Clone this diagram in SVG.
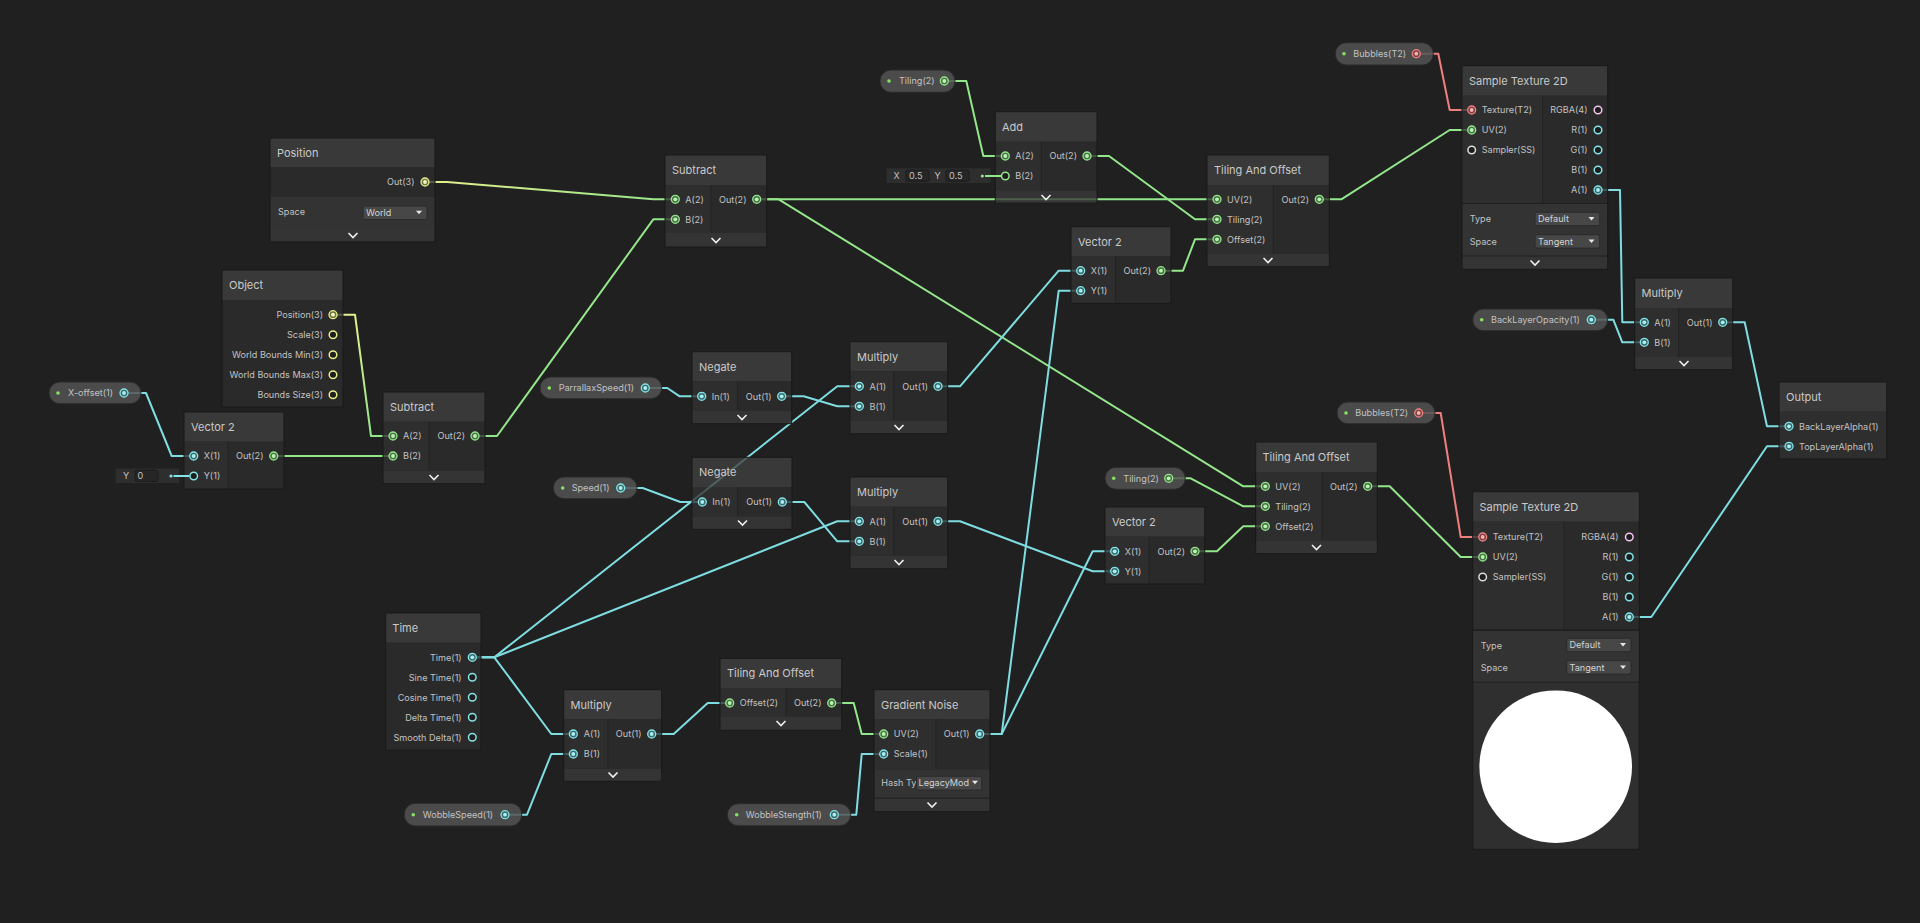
<svg xmlns="http://www.w3.org/2000/svg" xmlns:xlink="http://www.w3.org/1999/xlink" width="1920" height="923" viewBox="0 0 1920 923">
<style>
.hd{fill:#404040;fill-opacity:.78}
.bi{fill:#323232;fill-opacity:.78}
.bo{fill:#2d2d2d;fill-opacity:.78}
.st{fill:#383838;fill-opacity:.78}
.cb{fill:#3a3a3a;fill-opacity:.78}
.pv{fill:#323232;fill-opacity:.85}
.ol{fill:none;stroke:#191919;stroke-width:1}
.dv{stroke:#232323;stroke-width:1}
.pill{fill:#535353;fill-opacity:.85;stroke:#2a2a2a;stroke-width:1}
.tt{font-family:Inter,"Liberation Sans",sans-serif;font-size:11px;fill:#c9c9c9}
.pl{font-family:Inter,"Liberation Sans",sans-serif;font-size:9.1px;fill:#c2c2c2}
.pr{text-anchor:end}
.chev{fill:none;stroke:#f0f0f0;stroke-width:1.6}
.dd{fill:#474747;stroke:#2b2b2b;stroke-width:1}
.ddt{font-family:Inter,"Liberation Sans",sans-serif;font-size:9.1px;fill:#d4d4d4}
.arr{fill:#e8e8e8}
.pdot{fill:#86e35f}
.fld{fill:#262626;stroke:#1c1c1c;stroke-width:1}
.inl{fill:#2e2e2e}
.e{fill:none;stroke-width:2;stroke-linejoin:round;stroke-linecap:round}
.ec{stroke:#7fdde1}
.eg{stroke:#93e68a}
.er{stroke:#ee7f7f}
</style>
<defs>
<linearGradient id="gy1" gradientUnits="userSpaceOnUse" x1="425" y1="0" x2="675" y2="0"><stop offset="0" stop-color="#e6ef8c"/><stop offset="1" stop-color="#93e68a"/></linearGradient>
<linearGradient id="gy2" gradientUnits="userSpaceOnUse" x1="0" y1="315" x2="0" y2="436"><stop offset="0" stop-color="#e6ef8c"/><stop offset="1" stop-color="#93e68a"/></linearGradient>
<g id="pc"><circle r="4" fill="#3d6a6c" stroke="#84e4e7" stroke-width="1.3"/><circle r="1.9" fill="#a8f0f2"/></g>
<g id="pg"><circle r="4" fill="#4c7049" stroke="#93e68a" stroke-width="1.3"/><circle r="1.9" fill="#b8f5b0"/></g>
<g id="py"><circle r="4" fill="#6f7348" stroke="#e6ef8c" stroke-width="1.3"/><circle r="1.9" fill="#f6fbb8"/></g>
<g id="prd"><circle r="4" fill="#7a4343" stroke="#ef8080" stroke-width="1.3"/><circle r="1.9" fill="#f6b0b0"/></g>
<g id="uc"><circle r="3.8" fill="#1e1e1e" stroke="#84e4e7" stroke-width="1.5"/></g>
<g id="ug"><circle r="3.8" fill="#1e1e1e" stroke="#93e68a" stroke-width="1.5"/></g>
<g id="uy"><circle r="3.8" fill="#1e1e1e" stroke="#e6ef8c" stroke-width="1.5"/></g>
<g id="up"><circle r="3.8" fill="#1e1e1e" stroke="#f6c6ef" stroke-width="1.5"/></g>
<g id="uw"><circle r="3.8" fill="#1e1e1e" stroke="#dcdcdc" stroke-width="1.5"/></g>
<polyline id="chv" class="chev" points="-4.5,-2.5 0,2 4.5,-2.5"/>
<polygon id="tri" class="arr" points="-3,-1.8 3,-1.8 0,1.8"/>
</defs>
<rect width="1920" height="923" fill="#202020"/>

<g id="connectors">
<polyline class="e" stroke="url(#gy1)" points="425,182 447,182 653.3,199.3 675.3,199.3"/>
<polyline class="e" stroke="url(#gy2)" points="333,314.7 355,314.7 371,436 393,436"/>
<polyline class="e eg" points="273.7,456 393,456"/>
<polyline class="e ec" points="124,393 146,393 171.7,456 193.7,456"/>
<polyline class="e eg" points="475,436 497,436 653.3,219.3 675.3,219.3"/>
<polyline class="e eg" points="756.7,199.3 1217,199.3"/>
<polyline class="e eg" points="756.7,199.3 778.7,199.3 1243.3,486.3 1265.3,486.3"/>
<polyline class="e eg" points="944.3,81 966.3,81 983.3,156 1005.3,156"/>
<polyline class="e eg" points="1087,156 1109,156 1195,219.3 1217,219.3"/>
<polyline class="e eg" points="1161,270.7 1183,270.7 1195,239.3 1217,239.3"/>
<polyline class="e eg" points="1319.3,199.3 1341.3,199.3 1449.7,130 1471.7,130"/>
<polyline class="e er" points="1416.3,53.7 1438.3,53.7 1449.7,110 1471.7,110"/>
<polyline class="e ec" points="1598,190 1620,190 1622.3,322.3 1644.3,322.3"/>
<polyline class="e ec" points="1591.3,319.7 1613.3,319.7 1622.3,342.3 1644.3,342.3"/>
<polyline class="e ec" points="1722.7,322.3 1744.7,322.3 1767,426.3 1789,426.3"/>
<polyline class="e ec" points="1629.3,617 1651.3,617 1767,446.3 1789,446.3"/>
<polyline class="e er" points="1418.7,413 1440.7,413 1460.7,537 1482.7,537"/>
<polyline class="e eg" points="1367.7,486.3 1389.7,486.3 1460.7,557 1482.7,557"/>
<polyline class="e eg" points="1168.7,478.3 1190.7,478.3 1243.3,506.3 1265.3,506.3"/>
<polyline class="e eg" points="1195,551.3 1217,551.3 1243.3,526.3 1265.3,526.3"/>
<polyline class="e ec" points="938,386.3 960,386.3 1058.7,270.7 1080.7,270.7"/>
<polyline class="e ec" points="938,521.3 960,521.3 1092.7,571.3 1114.7,571.3"/>
<polyline class="e ec" points="979.7,734 1001.7,734 1058.7,290.7 1080.7,290.7"/>
<polyline class="e ec" points="979.7,734 1001.7,734 1092.7,551.3 1114.7,551.3"/>
<polyline class="e ec" points="645.3,388 667.3,388 679.7,396.3 701.7,396.3"/>
<polyline class="e ec" points="781.7,396.3 803.7,396.3 837.3,406.3 859.3,406.3"/>
<polyline class="e ec" points="620.7,488 642.7,488 680.3,502 702.3,502"/>
<polyline class="e ec" points="782.3,502 804.3,502 837.3,541.3 859.3,541.3"/>
<polyline class="e ec" points="472.3,657.3 494.3,657.3 837.3,386.3 859.3,386.3"/>
<polyline class="e ec" points="472.3,657.3 494.3,657.3 837.3,521.3 859.3,521.3"/>
<polyline class="e ec" points="472.3,657.3 494.3,657.3 551.3,734 573.3,734"/>
<polyline class="e ec" points="505,814.7 527,814.7 551.3,754 573.3,754"/>
<polyline class="e ec" points="651.7,734 673.7,734 707.7,703 729.7,703"/>
<polyline class="e eg" points="831.7,703 853.7,703 861.7,734 883.7,734"/>
<polyline class="e ec" points="834.3,814.7 856.3,814.7 861.7,754 883.7,754"/>
</g>

<g id="node-position">
<rect class="hd" x="270" y="138" width="165" height="29.5"/>
<rect class="bo" x="270" y="167.5" width="165" height="29"/>
<rect class="st" x="270" y="196.5" width="165" height="32.5"/>
<rect class="cb" x="270" y="229" width="165" height="13"/>
<rect class="ol" x="270" y="138" width="165" height="104"/>
<text class="tt" x="277" y="157">Position</text>
<text class="pl pr" x="414.5" y="185.3">Out(3)</text>
<use href="#py" x="425" y="182"/>
<text class="pl" x="278" y="215.3">Space</text>
<rect class="dd" x="363" y="206" width="64" height="13.5" rx="2"/>
<text class="ddt" x="366" y="216.2">World</text>
<use href="#tri" x="419" y="212.5"/>
<use href="#chv" x="353" y="235.5"/>
</g>

<g id="node-object">
<rect class="hd" x="222" y="270" width="121" height="30"/>
<rect class="bo" x="222" y="300" width="121" height="107"/>
<rect class="ol" x="222" y="270" width="121" height="137"/>
<text class="tt" x="229" y="289">Object</text>
<text class="pl pr" x="323" y="318">Position(3)</text>
<text class="pl pr" x="323" y="338">Scale(3)</text>
<text class="pl pr" x="323" y="358">World Bounds Min(3)</text>
<text class="pl pr" x="323" y="378">World Bounds Max(3)</text>
<text class="pl pr" x="323" y="398">Bounds Size(3)</text>
<use href="#py" x="333" y="314.7"/>
<use href="#uy" x="333" y="334.7"/>
<use href="#uy" x="333" y="354.7"/>
<use href="#uy" x="333" y="374.7"/>
<use href="#uy" x="333" y="394.7"/>
</g>

<g id="prop-xoffset">
<rect class="pill" x="49" y="382" width="92" height="21.7" rx="10.8"/>
<circle class="pdot" cx="58" cy="393" r="1.8"/>
<text class="pl" x="68" y="396.3">X-offset(1)</text>
<use href="#pc" x="124" y="393"/>
</g>

<g id="node-vector2-a">
<rect class="hd" x="184" y="412" width="100" height="29.7"/>
<rect class="bi" x="184" y="441.7" width="44" height="47.3"/>
<rect class="bo" x="228" y="441.7" width="56" height="47.3"/>
<line class="dv" x1="228" y1="441.7" x2="228" y2="489"/>
<rect class="ol" x="184" y="412" width="100" height="77"/>
<text class="tt" x="191" y="431">Vector 2</text>
<text class="pl" x="203.7" y="459.3">X(1)</text>
<text class="pl" x="203.7" y="479.3">Y(1)</text>
<text class="pl pr" x="263.5" y="459.3">Out(2)</text>
<use href="#pc" x="193.7" y="456"/>
<use href="#pg" x="273.7" y="456"/>
<rect class="inl" x="115.7" y="468.7" width="63.3" height="14.3"/>
<text class="pl" x="123" y="479.3">Y</text>
<rect class="fld" x="135" y="470.3" width="23" height="11.2" rx="1.5"/>
<text class="pl" x="137.5" y="479.3">0</text>
<circle cx="171" cy="476" r="1.6" fill="#84e4e7"/>
<line x1="173.5" y1="476" x2="189.5" y2="476" stroke="#84e4e7" stroke-width="2"/>
<use href="#uc" x="193.7" y="476"/>
</g>

<g id="node-subtract-a">
<rect class="hd" x="383" y="392" width="102" height="29.7"/>
<rect class="bi" x="383" y="421.7" width="46" height="49"/>
<rect class="bo" x="429" y="421.7" width="56" height="49"/>
<line class="dv" x1="429" y1="421.7" x2="429" y2="470.7"/>
<rect class="cb" x="383" y="470.7" width="102" height="13"/>
<rect class="ol" x="383" y="392" width="102" height="91.7"/>
<text class="tt" x="390" y="411">Subtract</text>
<text class="pl" x="403" y="439.3">A(2)</text>
<text class="pl" x="403" y="459.3">B(2)</text>
<text class="pl pr" x="465" y="439.3">Out(2)</text>
<use href="#pg" x="393" y="436"/>
<use href="#pg" x="393" y="456"/>
<use href="#pg" x="475" y="436"/>
<use href="#chv" x="434" y="477.5"/>
</g>

<g id="node-subtract-b">
<rect class="hd" x="665" y="155" width="101.7" height="30"/>
<rect class="bi" x="665" y="185" width="46" height="48"/>
<rect class="bo" x="711" y="185" width="55.7" height="48"/>
<line class="dv" x1="711" y1="185" x2="711" y2="233"/>
<rect class="cb" x="665" y="233" width="101.7" height="14"/>
<rect class="ol" x="665" y="155" width="101.7" height="92"/>
<text class="tt" x="672" y="174">Subtract</text>
<text class="pl" x="685.3" y="202.6">A(2)</text>
<text class="pl" x="685.3" y="222.6">B(2)</text>
<text class="pl pr" x="746.5" y="202.6">Out(2)</text>
<use href="#pg" x="675.3" y="199.3"/>
<use href="#pg" x="675.3" y="219.3"/>
<use href="#pg" x="756.7" y="199.3"/>
<use href="#chv" x="716" y="240.5"/>
</g>

<g id="prop-tiling-a">
<rect class="pill" x="880" y="70" width="75" height="22.3" rx="11"/>
<circle class="pdot" cx="889" cy="81" r="1.8"/>
<text class="pl" x="899" y="84.3">Tiling(2)</text>
<use href="#pg" x="944.3" y="81"/>
</g>

<g id="node-add">
<rect class="hd" x="995.3" y="111.7" width="101.7" height="30"/>
<rect class="bi" x="995.3" y="141.7" width="46" height="49.3"/>
<rect class="bo" x="1041.3" y="141.7" width="55.7" height="49.3"/>
<line class="dv" x1="1041.3" y1="141.7" x2="1041.3" y2="191"/>
<rect class="cb" x="995.3" y="191" width="101.7" height="12.3"/>
<rect class="ol" x="995.3" y="111.7" width="101.7" height="91.6"/>
<text class="tt" x="1002" y="130.5">Add</text>
<text class="pl" x="1015.3" y="159.3">A(2)</text>
<text class="pl" x="1015.3" y="179.3">B(2)</text>
<text class="pl pr" x="1077" y="159.3">Out(2)</text>
<use href="#pg" x="1005.3" y="156"/>
<use href="#pg" x="1087" y="156"/>
<rect class="inl" x="886.7" y="168.3" width="104" height="14.7"/>
<text class="pl" x="893.5" y="179.2">X</text>
<rect class="fld" x="906" y="170" width="23" height="11.3" rx="1.5"/>
<text class="pl" x="909" y="179.2">0.5</text>
<text class="pl" x="934.5" y="179.2">Y</text>
<rect class="fld" x="946" y="170" width="23" height="11.3" rx="1.5"/>
<text class="pl" x="949" y="179.2">0.5</text>
<circle cx="982.3" cy="176" r="1.6" fill="#93e68a"/>
<line x1="985" y1="176" x2="1001" y2="176" stroke="#93e68a" stroke-width="2"/>
<use href="#ug" x="1005.3" y="176"/>
<use href="#chv" x="1046" y="197.5"/>
</g>

<g id="node-tiling-offset-a">
<rect class="hd" x="1207" y="155" width="122.3" height="30"/>
<rect class="bi" x="1207" y="185" width="66.3" height="69"/>
<rect class="bo" x="1273.3" y="185" width="56" height="69"/>
<line class="dv" x1="1273.3" y1="185" x2="1273.3" y2="254"/>
<rect class="cb" x="1207" y="254" width="122.3" height="12.7"/>
<rect class="ol" x="1207" y="155" width="122.3" height="111.7"/>
<text class="tt" x="1214" y="174">Tiling And Offset</text>
<text class="pl" x="1227" y="202.6">UV(2)</text>
<text class="pl" x="1227" y="222.6">Tiling(2)</text>
<text class="pl" x="1227" y="242.6">Offset(2)</text>
<text class="pl pr" x="1309" y="202.6">Out(2)</text>
<use href="#pg" x="1217" y="199.3"/>
<use href="#pg" x="1217" y="219.3"/>
<use href="#pg" x="1217" y="239.3"/>
<use href="#pg" x="1319.3" y="199.3"/>
<use href="#chv" x="1268" y="260.5"/>
</g>

<g id="node-vector2-b">
<rect class="hd" x="1071" y="226.7" width="100" height="29.3"/>
<rect class="bi" x="1071" y="256" width="44.3" height="47.3"/>
<rect class="bo" x="1115.3" y="256" width="55.7" height="47.3"/>
<line class="dv" x1="1115.3" y1="256" x2="1115.3" y2="303.3"/>
<rect class="ol" x="1071" y="226.7" width="100" height="76.6"/>
<text class="tt" x="1078" y="245.5">Vector 2</text>
<text class="pl" x="1090.7" y="274">X(1)</text>
<text class="pl" x="1090.7" y="294">Y(1)</text>
<text class="pl pr" x="1151" y="274">Out(2)</text>
<use href="#pc" x="1080.7" y="270.7"/>
<use href="#pc" x="1080.7" y="290.7"/>
<use href="#pg" x="1161" y="270.7"/>
</g>

<g id="prop-bubbles-a">
<rect class="pill" x="1335.3" y="42.7" width="98" height="22.3" rx="11"/>
<circle class="pdot" cx="1344" cy="53.7" r="1.8"/>
<text class="pl" x="1353.3" y="57">Bubbles(T2)</text>
<use href="#prd" x="1416.3" y="53.7"/>
</g>

<g id="node-sample-texture-a">
<rect class="hd" x="1462" y="65.7" width="145.7" height="30"/>
<rect class="bi" x="1462" y="95.7" width="80.7" height="107.3"/>
<rect class="bo" x="1542.7" y="95.7" width="65" height="107.3"/>
<line class="dv" x1="1542.7" y1="95.7" x2="1542.7" y2="203"/>
<rect class="st" x="1462" y="204" width="145.7" height="51.5"/>
<rect class="cb" x="1462" y="256.5" width="145.7" height="12.8"/>
<rect class="ol" x="1462" y="65.7" width="145.7" height="203.6"/>
<text class="tt" x="1469" y="84.5">Sample Texture 2D</text>
<text class="pl" x="1481.7" y="113.3">Texture(T2)</text>
<text class="pl" x="1481.7" y="133.3">UV(2)</text>
<text class="pl" x="1481.7" y="153.3">Sampler(SS)</text>
<use href="#prd" x="1471.7" y="110"/>
<use href="#pg" x="1471.7" y="130"/>
<use href="#uw" x="1471.7" y="150"/>
<text class="pl pr" x="1587.5" y="113.3">RGBA(4)</text>
<text class="pl pr" x="1587.5" y="133.3">R(1)</text>
<text class="pl pr" x="1587.5" y="153.3">G(1)</text>
<text class="pl pr" x="1587.5" y="173.3">B(1)</text>
<text class="pl pr" x="1587.5" y="193.3">A(1)</text>
<use href="#up" x="1598" y="110"/>
<use href="#uc" x="1598" y="130"/>
<use href="#uc" x="1598" y="150"/>
<use href="#uc" x="1598" y="170"/>
<use href="#pc" x="1598" y="190"/>
<text class="pl" x="1469.7" y="222.3">Type</text>
<rect class="dd" x="1535" y="212.3" width="64.7" height="13.4" rx="2"/>
<text class="ddt" x="1538" y="222.3">Default</text>
<use href="#tri" x="1591.5" y="218.8"/>
<text class="pl" x="1469.7" y="244.6">Space</text>
<rect class="dd" x="1535" y="234.7" width="64.7" height="13.4" rx="2"/>
<text class="ddt" x="1538" y="244.6">Tangent</text>
<use href="#tri" x="1591.5" y="241.2"/>
<use href="#chv" x="1535" y="263"/>
</g>

<g id="node-multiply-d">
<rect class="hd" x="1634.7" y="278" width="98" height="30"/>
<rect class="bi" x="1634.7" y="308" width="44" height="49"/>
<rect class="bo" x="1678.7" y="308" width="54" height="49"/>
<line class="dv" x1="1678.7" y1="308" x2="1678.7" y2="357"/>
<rect class="cb" x="1634.7" y="357" width="98" height="12.7"/>
<rect class="ol" x="1634.7" y="278" width="98" height="91.7"/>
<text class="tt" x="1641.5" y="297">Multiply</text>
<text class="pl" x="1654.3" y="325.6">A(1)</text>
<text class="pl" x="1654.3" y="345.6">B(1)</text>
<text class="pl pr" x="1712.5" y="325.6">Out(1)</text>
<use href="#pc" x="1644.3" y="322.3"/>
<use href="#pc" x="1644.3" y="342.3"/>
<use href="#pc" x="1722.7" y="322.3"/>
<use href="#chv" x="1684" y="363.5"/>
</g>

<g id="prop-backlayeropacity">
<rect class="pill" x="1472.7" y="309" width="135" height="21.7" rx="10.8"/>
<circle class="pdot" cx="1481.7" cy="319.7" r="1.8"/>
<text class="pl" x="1491" y="323">BackLayerOpacity(1)</text>
<use href="#pc" x="1591.3" y="319.7"/>
</g>

<g id="node-output">
<rect class="hd" x="1779" y="382" width="107.7" height="29.7"/>
<rect class="bi" x="1779" y="411.7" width="107.7" height="47.3"/>
<rect class="ol" x="1779" y="382" width="107.7" height="77"/>
<text class="tt" x="1786" y="401">Output</text>
<text class="pl" x="1799" y="429.6">BackLayerAlpha(1)</text>
<text class="pl" x="1799" y="449.6">TopLayerAlpha(1)</text>
<use href="#pc" x="1789" y="426.3"/>
<use href="#pc" x="1789" y="446.3"/>
</g>

<g id="prop-bubbles-b">
<rect class="pill" x="1337" y="402" width="98" height="21.7" rx="10.8"/>
<circle class="pdot" cx="1346" cy="413" r="1.8"/>
<text class="pl" x="1355.3" y="416.3">Bubbles(T2)</text>
<use href="#prd" x="1418.7" y="413"/>
</g>

<g id="node-sample-texture-b">
<rect class="hd" x="1472.7" y="491.7" width="166.6" height="30"/>
<rect class="bi" x="1472.7" y="521.7" width="91.3" height="107.6"/>
<rect class="bo" x="1564" y="521.7" width="75.3" height="107.6"/>
<line class="dv" x1="1564" y1="521.7" x2="1564" y2="629.3"/>
<rect class="st" x="1472.7" y="631" width="166.6" height="50.7"/>
<rect class="pv" x="1472.7" y="682.7" width="166.6" height="166.6"/>
<rect class="ol" x="1472.7" y="491.7" width="166.6" height="357.6"/>
<text class="tt" x="1479.5" y="510.5">Sample Texture 2D</text>
<text class="pl" x="1492.7" y="540.3">Texture(T2)</text>
<text class="pl" x="1492.7" y="560.3">UV(2)</text>
<text class="pl" x="1492.7" y="580.3">Sampler(SS)</text>
<use href="#prd" x="1482.7" y="537"/>
<use href="#pg" x="1482.7" y="557"/>
<use href="#uw" x="1482.7" y="577"/>
<text class="pl pr" x="1618.7" y="540.3">RGBA(4)</text>
<text class="pl pr" x="1618.7" y="560.3">R(1)</text>
<text class="pl pr" x="1618.7" y="580.3">G(1)</text>
<text class="pl pr" x="1618.7" y="600.3">B(1)</text>
<text class="pl pr" x="1618.7" y="620.3">A(1)</text>
<use href="#up" x="1629.3" y="537"/>
<use href="#uc" x="1629.3" y="557"/>
<use href="#uc" x="1629.3" y="577"/>
<use href="#uc" x="1629.3" y="597"/>
<use href="#pc" x="1629.3" y="617"/>
<text class="pl" x="1480.7" y="648.6">Type</text>
<rect class="dd" x="1566.7" y="638.3" width="64.3" height="13.4" rx="2"/>
<text class="ddt" x="1569.5" y="648.3">Default</text>
<use href="#tri" x="1623" y="644.8"/>
<text class="pl" x="1480.7" y="670.6">Space</text>
<rect class="dd" x="1566.7" y="660.7" width="64.3" height="13.4" rx="2"/>
<text class="ddt" x="1569.5" y="670.6">Tangent</text>
<use href="#tri" x="1623" y="667.2"/>
<circle cx="1555.7" cy="766.7" r="76.3" fill="#ffffff"/>
</g>

<g id="node-tiling-offset-b">
<rect class="hd" x="1255.7" y="442" width="121.6" height="30"/>
<rect class="bi" x="1255.7" y="472" width="66.3" height="68.7"/>
<rect class="bo" x="1322" y="472" width="55.3" height="68.7"/>
<line class="dv" x1="1322" y1="472" x2="1322" y2="540.7"/>
<rect class="cb" x="1255.7" y="540.7" width="121.6" height="13"/>
<rect class="ol" x="1255.7" y="442" width="121.6" height="111.7"/>
<text class="tt" x="1262.5" y="461">Tiling And Offset</text>
<text class="pl" x="1275.3" y="489.6">UV(2)</text>
<text class="pl" x="1275.3" y="509.6">Tiling(2)</text>
<text class="pl" x="1275.3" y="529.6">Offset(2)</text>
<text class="pl pr" x="1357.5" y="489.6">Out(2)</text>
<use href="#pg" x="1265.3" y="486.3"/>
<use href="#pg" x="1265.3" y="506.3"/>
<use href="#pg" x="1265.3" y="526.3"/>
<use href="#pg" x="1367.7" y="486.3"/>
<use href="#chv" x="1316.5" y="547.5"/>
</g>

<g id="prop-tiling-b">
<rect class="pill" x="1105" y="467.3" width="80.3" height="22" rx="11"/>
<circle class="pdot" cx="1113.7" cy="478.3" r="1.8"/>
<text class="pl" x="1123.3" y="481.6">Tiling(2)</text>
<use href="#pg" x="1168.7" y="478.3"/>
</g>

<g id="node-vector2-c">
<rect class="hd" x="1105" y="507" width="99.7" height="29.7"/>
<rect class="bi" x="1105" y="536.7" width="44" height="47.3"/>
<rect class="bo" x="1149" y="536.7" width="55.7" height="47.3"/>
<line class="dv" x1="1149" y1="536.7" x2="1149" y2="584"/>
<rect class="ol" x="1105" y="507" width="99.7" height="77"/>
<text class="tt" x="1112" y="526">Vector 2</text>
<text class="pl" x="1124.7" y="554.6">X(1)</text>
<text class="pl" x="1124.7" y="574.6">Y(1)</text>
<text class="pl pr" x="1185" y="554.6">Out(2)</text>
<use href="#pc" x="1114.7" y="551.3"/>
<use href="#pc" x="1114.7" y="571.3"/>
<use href="#pg" x="1195" y="551.3"/>
</g>

<g id="prop-parrallaxspeed">
<rect class="pill" x="540" y="377" width="121.7" height="21.7" rx="10.8"/>
<circle class="pdot" cx="549.3" cy="388" r="1.8"/>
<text class="pl" x="558.7" y="391.3">ParrallaxSpeed(1)</text>
<use href="#pc" x="645.3" y="388"/>
</g>

<g id="node-negate-a">
<rect class="hd" x="692" y="351.7" width="99.7" height="29.6"/>
<rect class="bi" x="692" y="381.3" width="45.7" height="29.4"/>
<rect class="bo" x="737.7" y="381.3" width="54" height="29.4"/>
<line class="dv" x1="737.7" y1="381.3" x2="737.7" y2="410.7"/>
<rect class="cb" x="692" y="410.7" width="99.7" height="13"/>
<rect class="ol" x="692" y="351.7" width="99.7" height="72"/>
<text class="tt" x="699" y="370.5">Negate</text>
<text class="pl" x="711.7" y="399.6">In(1)</text>
<text class="pl pr" x="771.5" y="399.6">Out(1)</text>
<use href="#pc" x="701.7" y="396.3"/>
<use href="#pc" x="781.7" y="396.3"/>
<use href="#chv" x="742" y="417.5"/>
</g>

<g id="node-multiply-a">
<rect class="hd" x="850" y="341.7" width="97.7" height="29.6"/>
<rect class="bi" x="850" y="371.3" width="43.7" height="49.4"/>
<rect class="bo" x="893.7" y="371.3" width="54" height="49.4"/>
<line class="dv" x1="893.7" y1="371.3" x2="893.7" y2="420.7"/>
<rect class="cb" x="850" y="420.7" width="97.7" height="13"/>
<rect class="ol" x="850" y="341.7" width="97.7" height="92"/>
<text class="tt" x="857" y="360.5">Multiply</text>
<text class="pl" x="869.5" y="389.6">A(1)</text>
<text class="pl" x="869.5" y="409.6">B(1)</text>
<text class="pl pr" x="928" y="389.6">Out(1)</text>
<use href="#pc" x="859.3" y="386.3"/>
<use href="#pc" x="859.3" y="406.3"/>
<use href="#pc" x="938" y="386.3"/>
<use href="#chv" x="899" y="427.5"/>
</g>

<g id="prop-speed">
<rect class="pill" x="553.3" y="477" width="83.7" height="21.7" rx="10.8"/>
<circle class="pdot" cx="562.7" cy="488" r="1.8"/>
<text class="pl" x="571.7" y="491.3">Speed(1)</text>
<use href="#pc" x="620.7" y="488"/>
</g>

<g id="node-negate-b">
<rect class="hd" x="692" y="457.3" width="100" height="29.7"/>
<rect class="bi" x="692" y="487" width="45.7" height="29.3"/>
<rect class="bo" x="737.7" y="487" width="54.3" height="29.3"/>
<line class="dv" x1="737.7" y1="487" x2="737.7" y2="516.3"/>
<rect class="cb" x="692" y="516.3" width="100" height="13"/>
<rect class="ol" x="692" y="457.3" width="100" height="72"/>
<text class="tt" x="699" y="476">Negate</text>
<text class="pl" x="712.3" y="505.3">In(1)</text>
<text class="pl pr" x="772" y="505.3">Out(1)</text>
<use href="#pc" x="702.3" y="502"/>
<use href="#pc" x="782.3" y="502"/>
<use href="#chv" x="742.5" y="523"/>
</g>

<g id="node-multiply-b">
<rect class="hd" x="850" y="477" width="97.7" height="29.7"/>
<rect class="bi" x="850" y="506.7" width="43.7" height="49"/>
<rect class="bo" x="893.7" y="506.7" width="54" height="49"/>
<line class="dv" x1="893.7" y1="506.7" x2="893.7" y2="555.7"/>
<rect class="cb" x="850" y="555.7" width="97.7" height="13"/>
<rect class="ol" x="850" y="477" width="97.7" height="91.7"/>
<text class="tt" x="857" y="496">Multiply</text>
<text class="pl" x="869.5" y="524.6">A(1)</text>
<text class="pl" x="869.5" y="544.6">B(1)</text>
<text class="pl pr" x="928" y="524.6">Out(1)</text>
<use href="#pc" x="859.3" y="521.3"/>
<use href="#pc" x="859.3" y="541.3"/>
<use href="#pc" x="938" y="521.3"/>
<use href="#chv" x="899" y="562.5"/>
</g>

<g id="node-time">
<rect class="hd" x="385.7" y="613" width="95.3" height="29.7"/>
<rect class="bo" x="385.7" y="642.7" width="95.3" height="107.6"/>
<rect class="ol" x="385.7" y="613" width="95.3" height="137.3"/>
<text class="tt" x="392.3" y="632">Time</text>
<text class="pl pr" x="461.7" y="660.6">Time(1)</text>
<text class="pl pr" x="461.7" y="680.6">Sine Time(1)</text>
<text class="pl pr" x="461.7" y="700.6">Cosine Time(1)</text>
<text class="pl pr" x="461.7" y="720.6">Delta Time(1)</text>
<text class="pl pr" x="461.7" y="740.6">Smooth Delta(1)</text>
<use href="#pc" x="472.3" y="657.3"/>
<use href="#uc" x="472.3" y="677.3"/>
<use href="#uc" x="472.3" y="697.3"/>
<use href="#uc" x="472.3" y="717.3"/>
<use href="#uc" x="472.3" y="737.3"/>
</g>

<g id="prop-wobblespeed">
<rect class="pill" x="404.3" y="803.3" width="117.4" height="22.7" rx="11"/>
<circle class="pdot" cx="413.3" cy="814.7" r="1.8"/>
<text class="pl" x="422.7" y="818">WobbleSpeed(1)</text>
<use href="#pc" x="505" y="814.7"/>
</g>

<g id="node-multiply-c">
<rect class="hd" x="563.7" y="689.7" width="98" height="29.6"/>
<rect class="bi" x="563.7" y="719.3" width="44.3" height="49.4"/>
<rect class="bo" x="608" y="719.3" width="53.7" height="49.4"/>
<line class="dv" x1="608" y1="719.3" x2="608" y2="768.7"/>
<rect class="cb" x="563.7" y="768.7" width="98" height="12.6"/>
<rect class="ol" x="563.7" y="689.7" width="98" height="91.6"/>
<text class="tt" x="570.5" y="708.5">Multiply</text>
<text class="pl" x="583.7" y="737.3">A(1)</text>
<text class="pl" x="583.7" y="757.3">B(1)</text>
<text class="pl pr" x="641.5" y="737.3">Out(1)</text>
<use href="#pc" x="573.3" y="734"/>
<use href="#pc" x="573.3" y="754"/>
<use href="#pc" x="651.7" y="734"/>
<use href="#chv" x="613" y="775"/>
</g>

<g id="node-tiling-offset-c">
<rect class="hd" x="720" y="658.3" width="121.7" height="29.7"/>
<rect class="bi" x="720" y="688" width="66" height="29"/>
<rect class="bo" x="786" y="688" width="55.7" height="29"/>
<line class="dv" x1="786" y1="688" x2="786" y2="717"/>
<rect class="cb" x="720" y="717" width="121.7" height="13.3"/>
<rect class="ol" x="720" y="658.3" width="121.7" height="72"/>
<text class="tt" x="727" y="677">Tiling And Offset</text>
<text class="pl" x="739.7" y="706.3">Offset(2)</text>
<text class="pl pr" x="821.5" y="706.3">Out(2)</text>
<use href="#pg" x="729.7" y="703"/>
<use href="#pg" x="831.7" y="703"/>
<use href="#chv" x="781" y="723.5"/>
</g>

<g id="node-gradient-noise">
<rect class="hd" x="874" y="689.7" width="116" height="29.6"/>
<rect class="bi" x="874" y="719.3" width="62" height="50"/>
<rect class="bo" x="936" y="719.3" width="54" height="50"/>
<line class="dv" x1="936" y1="719.3" x2="936" y2="769.3"/>
<rect class="st" x="874" y="769.3" width="116" height="28.4"/>
<rect class="cb" x="874" y="798.7" width="116" height="13"/>
<rect class="ol" x="874" y="689.7" width="116" height="122"/>
<text class="tt" x="881" y="708.5">Gradient Noise</text>
<text class="pl" x="893.7" y="737.3">UV(2)</text>
<text class="pl" x="893.7" y="757.3">Scale(1)</text>
<text class="pl pr" x="969.5" y="737.3">Out(1)</text>
<use href="#pg" x="883.7" y="734"/>
<use href="#pc" x="883.7" y="754"/>
<use href="#pc" x="979.7" y="734"/>
<text class="pl" x="881.3" y="786.3">Hash Ty</text>
<rect class="dd" x="916.7" y="776.3" width="65" height="13.7" rx="2"/>
<text class="ddt" x="918.5" y="786.3">LegacyMod</text>
<use href="#tri" x="975" y="782.5"/>
<use href="#chv" x="932" y="805"/>
</g>

<g id="prop-wobblestength">
<rect class="pill" x="727.3" y="803.7" width="123.4" height="22" rx="11"/>
<circle class="pdot" cx="736.7" cy="814.7" r="1.8"/>
<text class="pl" x="745.7" y="818">WobbleStength(1)</text>
<use href="#pc" x="834.3" y="814.7"/>
</g>
</svg>
